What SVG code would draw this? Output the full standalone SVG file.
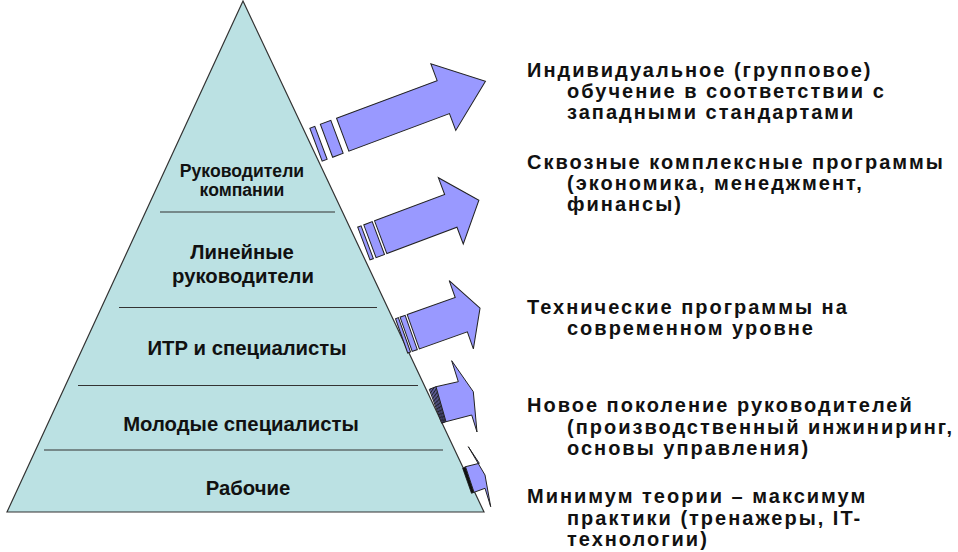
<svg xmlns="http://www.w3.org/2000/svg" width="958" height="552" viewBox="0 0 958 552">
<defs>
<style>
.pyr{fill:#BBE1E3;stroke:#333;stroke-width:1.2}
.div{stroke:#333;stroke-width:1.2}
.ar{fill:#9999FF;stroke:#222;stroke-width:1;stroke-linejoin:miter}
.blk{stroke:#111;stroke-width:0.9}
.pt{font-family:"Liberation Sans",Arial,sans-serif;font-weight:bold;font-size:20.3px;fill:#111;text-anchor:middle}
.rt{font-family:"Liberation Sans",Arial,sans-serif;font-weight:bold;font-size:20px;fill:#111;letter-spacing:2px}
</style>
</defs>
<rect width="958" height="552" fill="#fff"/>
<g id="pyramid">
<polygon class="pyr" points="243,1 484,512 7,512"/>
<line class="div" x1="160" y1="212" x2="335" y2="212"/>
<line class="div" x1="119" y1="307.5" x2="377" y2="307.5"/>
<line class="div" x1="78" y1="385.5" x2="418" y2="385.5"/>
<line class="div" x1="44" y1="450" x2="443" y2="450"/>
</g>
<g id="level-1"><text class="pt" style="font-size:17.6px" x="242" y="177">Руководители</text><text class="pt" style="font-size:17.6px" x="242" y="196">компании</text></g>
<g id="level-2"><text class="pt" x="242" y="259">Линейные</text><text class="pt" x="243" y="283">руководители</text></g>
<g id="level-3"><text class="pt" x="247" y="355">ИТР и специалисты</text></g>
<g id="level-4"><text class="pt" x="241" y="431">Молодые специалисты</text></g>
<g id="level-5"><text class="pt" x="248" y="495">Рабочие</text></g>
<g id="arrows">
<g id="arrow-1" transform="translate(342.7,134.7) rotate(-20.5)">
<rect class="ar" x="-28.5" y="-17.6" width="5.3" height="35.2"/>
<rect class="ar" x="-17.3" y="-17.6" width="11.2" height="35.2"/>
<polygon class="ar" points="0,-17.6 107.4,-17.6 107.4,-35.6 152.4,0 107.4,35.6 107.4,17.6 0,17.6"/>
</g>
<g id="arrow-2" transform="translate(380.7,237.2) rotate(-20.6)">
<rect class="ar" x="-18" y="-17.5" width="3.6" height="35"/>
<rect class="ar" x="-11.5" y="-17.5" width="9" height="35"/>
<polygon class="ar" points="0,-17.5 74.9,-17.5 74.9,-35.4 104.9,0 74.9,35.4 74.9,17.5 0,17.5"/>
</g>
<g id="arrow-3" transform="translate(413.3,331.7) rotate(-19.5)">
<rect class="ar" x="-12.4" y="-18.2" width="3" height="36.4"/>
<rect class="ar" x="-7.6" y="-18.2" width="5.4" height="36.4"/>
<polygon class="ar" points="0,-18.2 50.9,-18.2 50.9,-36.2 70.8,0 50.9,36.2 50.9,18.2 0,18.2"/>
</g>
<g id="arrow-4">
<polygon class="ar" points="429.3,389.3 436,386.7 446,421.7 441.7,423.3"/>
<line class="blk" x1="430.6" y1="388.8" x2="442.5" y2="423"/>
<line class="blk" x1="432" y1="388.3" x2="443.4" y2="422.7"/>
<line class="blk" x1="433.3" y1="387.7" x2="444.2" y2="422.4"/>
<line class="blk" x1="434.7" y1="387.2" x2="445.1" y2="422"/>
<polygon class="ar" points="436,386.7 458.3,381.7 451.7,360.7 473.3,391.7 477,432 471.7,415 446,421.7"/>
</g>
<g id="arrow-5">
<polygon points="462.7,468.3 465.5,466.7 474,492.3 471.5,493.3" fill="#111" stroke="#111" stroke-width="0.8"/>
<polygon class="ar" points="465.5,466.7 479.3,463.3 468.3,446.7 485,475 490.7,506.7 485,488.3 474,492.3"/>
</g>
</g>
<g id="text-1"><text class="rt" x="527" y="77">Индивидуальное  (групповое)</text><text class="rt" x="567" y="98">обучение в соответствии  с</text><text class="rt" x="567" y="119">западными стандартами</text></g>
<g id="text-2"><text class="rt" x="527" y="169">Сквозные комплексные программы</text><text class="rt" x="567" y="190">(экономика, менеджмент,</text><text class="rt" x="567" y="211">финансы)</text></g>
<g id="text-3"><text class="rt" x="527" y="314">Технические программы  на</text><text class="rt" x="567" y="335">современном уровне</text></g>
<g id="text-4"><text class="rt" x="527" y="412">Новое поколение руководителей</text><text class="rt" x="567" y="434">(производственный  инжиниринг,</text><text class="rt" x="567" y="455">основы управления)</text></g>
<g id="text-5"><text class="rt" x="527" y="503">Минимум теории – максимум</text><text class="rt" x="567" y="525">практики (тренажеры, IT-</text><text class="rt" x="567" y="546">технологии)</text></g>
</svg>
